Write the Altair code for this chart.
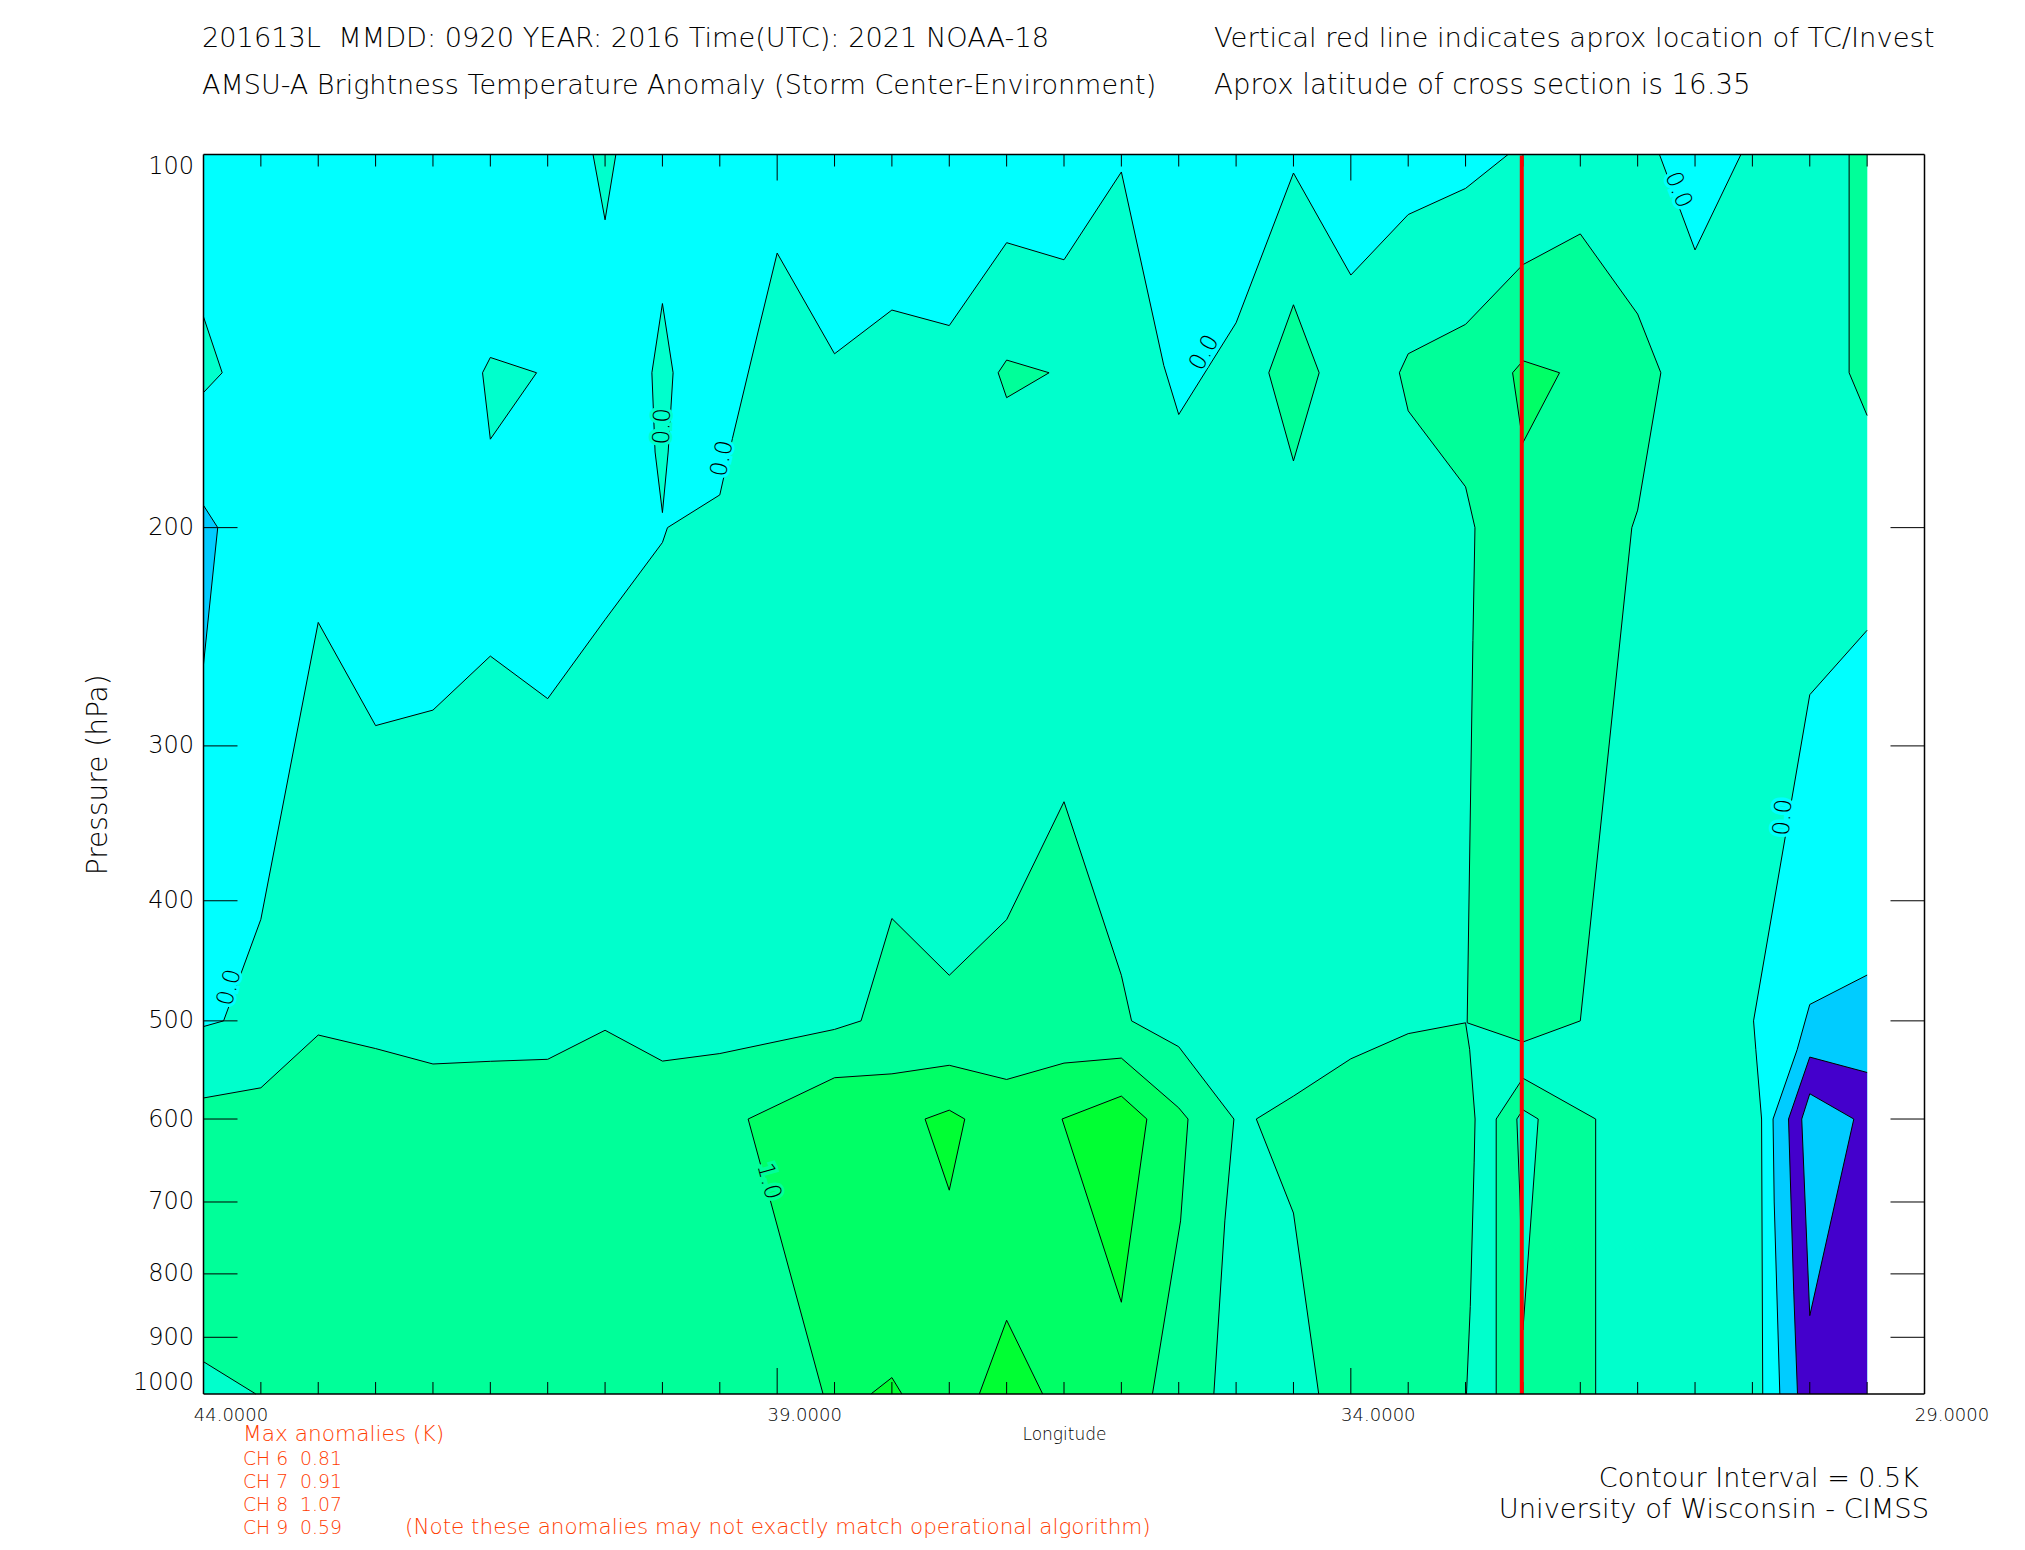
import altair as alt
import pandas as pd

CYAN, B0, B1, B2, B3 = "#00FFFF", "#00FFCC", "#00FF99", "#00FF66", "#00FF33"
BLUE, PURPLE = "#00CCFF", "#4400CC"

BG_LON = [44, 29.5, 29.5, 44]
BG_P = [100, 100, 1000, 1000]

Z_MAIN_LON = [44, 43.825, 43.5, 43, 42.5, 42, 41.5, 41, 40.5, 40, 39.956, 39.5, 39.39, 39.146, 39, 38.5, 38, 37.5, 37, 36.5, 36, 35.63, 35.5, 35, 34.5, 34, 33.5, 33, 32.63, 31.31, 31, 30.6, 29.5, 29.5, 30, 30.49, 30.47, 30.42, 30.41, 44]
Z_MAIN_P = [505.3, 500, 414, 238.5, 288.9, 280.7, 253.9, 274.8, 237.3, 205.6, 200, 188.2, 169.5, 136.5, 120.1, 144.8, 133.5, 137.4, 117.8, 121.6, 103.3, 148, 162.1, 136.7, 103.5, 125.1, 111.8, 106.5, 100, 100, 119.4, 100, 100, 242, 272.8, 500, 527.5, 600, 1000, 1000]
Z_A_LON = [40.605, 40.5, 40.406]
Z_A_P = [100, 112.9, 100]
Z_B_LON = [44, 43.837, 44]
Z_B_P = [135.2, 150, 155.6]
Z_C_LON = [41.5, 41.568, 41.5, 41.097]
Z_C_P = [145.8, 150, 169.7, 150]
Z_D_LON = [40, 39.907, 39.95, 40, 40.064, 40.092]
Z_D_P = [131.9, 150, 173.8, 194.5, 173.8, 150]

H_MAIN_LON = [44, 43.5, 43, 42.5, 42, 41.5, 41, 40.5, 40, 39.5, 38.5, 38.269, 38, 37.5, 37, 36.5, 36, 35.911, 35.5, 35.019, 35.098, 35.194, 43.544, 44]
H_MAIN_P = [577, 566.2, 513.3, 526.4, 541.7, 539, 537, 508.8, 538.8, 531.3, 508, 500, 413.4, 459.4, 414.3, 332.8, 459.4, 500, 524.6, 600, 725, 1000, 1000, 941.8]
H_MID_LON = [34.824, 34.5, 34, 33.5, 33, 32.964, 32.917, 32.925, 32.959, 32.992, 34.28, 34.5]
H_MID_P = [600, 575, 536.5, 512, 501.8, 527.5, 600, 650, 850, 1000, 1000, 714.5]
H_COL_LON = [32, 32.5, 33, 33.5, 33.577, 33.5, 33, 32.918, 32.936, 32.986, 32.5, 32, 31.551, 31.5, 31.298, 31.5]
H_COL_P = [115.9, 122.7, 137.1, 144.8, 150, 161, 185.4, 200, 246.7, 501.8, 520, 500, 200, 193.6, 150, 134.5]
H_LOW_LON = [32.733, 32.5, 31.866, 31.866, 32.733]
H_LOW_P = [600, 556.2, 600, 1000, 1000]
H_EDGE_LON = [29.657, 29.657, 29.5, 29.5]
H_EDGE_P = [100, 150, 162.4, 100]
H_E_LON = [37.074, 37, 36.63, 37]
H_E_P = [150, 146.5, 150, 157.1]
H_F_LON = [34.715, 34.5, 34.276, 34.5]
H_F_P = [150, 132.2, 150, 176.7]
Z_HOLE_LON = [32.553, 32.5, 32.367, 32.5, 32.525]
Z_HOLE_P = [600, 589.8, 600, 887.9, 698.6]

M_MAIN_LON = [39.253, 38.5, 38, 37.5, 37, 36.5, 36, 35.5, 35.419, 35.484, 35.729, 38.6]
M_MAIN_P = [600, 555.7, 551.7, 543, 557.5, 540.8, 535.8, 587.7, 600, 725, 1000, 1000]
M_COL_LON = [32.59, 32.5, 32.181, 32.5]
M_COL_P = [150, 146.7, 150, 170.8]

T_A_LON = [37.711, 37.5, 37.365, 37.5]
T_A_P = [600, 590.2, 600, 684.8]
T_B_LON = [36.517, 36, 35.778, 36]
T_B_P = [600, 575, 600, 843.3]
T_C_LON = [37.238, 37, 36.686]
T_C_P = [1000, 871.9, 1000]
T_D_LON = [38.183, 38, 37.913]
T_D_P = [1000, 970, 1000]

L_BLUE_LON = [44, 43.876, 44]
L_BLUE_P = [191.9, 200, 257.8]
R_BLUE_LON = [29.5, 30, 30.11, 30.32, 30.31, 30.261, 29.5]
R_BLUE_P = [459.2, 485, 527.5, 600, 700, 1000, 1000]
R_PURPLE_LON = [30, 29.5, 29.5, 30.107, 30.14, 30.185]
R_PURPLE_P = [534.8, 550.3, 1000, 1000, 826, 600]
R_INNER_LON = [30, 29.616, 30, 30.07]
R_INNER_P = [572.5, 600, 864.5, 600]

POLYGONS = [
    (CYAN, BG_LON, BG_P),
    (B0, Z_MAIN_LON, Z_MAIN_P), (B0, Z_A_LON, Z_A_P), (B0, Z_B_LON, Z_B_P),
    (B0, Z_C_LON, Z_C_P), (B0, Z_D_LON, Z_D_P),
    (B1, H_MAIN_LON, H_MAIN_P), (B1, H_MID_LON, H_MID_P), (B1, H_COL_LON, H_COL_P),
    (B1, H_LOW_LON, H_LOW_P), (B1, H_EDGE_LON, H_EDGE_P), (B1, H_E_LON, H_E_P), (B1, H_F_LON, H_F_P),
    (B0, Z_HOLE_LON, Z_HOLE_P),
    (B2, M_MAIN_LON, M_MAIN_P), (B2, M_COL_LON, M_COL_P),
    (B3, T_A_LON, T_A_P), (B3, T_B_LON, T_B_P), (B3, T_C_LON, T_C_P), (B3, T_D_LON, T_D_P),
    (BLUE, L_BLUE_LON, L_BLUE_P), (BLUE, R_BLUE_LON, R_BLUE_P),
    (PURPLE, R_PURPLE_LON, R_PURPLE_P), (BLUE, R_INNER_LON, R_INNER_P),
]

MINOR_LON = [43.5, 43, 42.5, 42, 41.5, 41, 40.5, 40, 39.5, 38.5, 38, 37.5, 37, 36.5, 36, 35.5, 35, 34.5, 33.5, 33, 32.5, 32, 31.5, 31, 30.5, 30, 29.5]
MAJOR_LON = [39, 34]
TICK_P = [200, 300, 400, 500, 600, 700, 800, 900]
AXIS_P = [100, 200, 300, 400, 500, 600, 700, 800, 900, 1000]
AXIS_LON = [44, 39, 34, 29]
STORM_LON = 32.51

LABEL_TXT = ["0.0", "0.0", "0.0", "0.0", "0.0", "0.0", "1.0"]
LABEL_LON = [43.775, 39.479, 40.0, 35.278, 31.145, 30.233, 39.073]
LABEL_P = [470, 175.9, 165.7, 144.5, 106.8, 342.6, 673.8]
LABEL_ANGLE = [285, 282, 272, 300, 68, 275, 75]
LABEL_BG = ["#00FFFF", "#00FFFF", "#00FFCC", "#00FFFF", "#00FFFF", "#00FFFF", "#00FF99"]

# annotation text: (string, page x, page baseline y, size, colour, align)
X0, Y0 = 203.5, 154.5
RED = "#FF3C00"
NB = "\u00a0\u00a0"
TEXTS = [
    (f"201613L{NB}MMDD: 0920 YEAR: 2016 Time(UTC): 2021 NOAA-18", 202, 47, 27.2, "black", "left"),
    ("AMSU-A Brightness Temperature Anomaly (Storm Center-Environment)", 202, 94, 27, "black", "left"),
    ("Vertical red line indicates aprox location of TC/Invest", 1214, 47, 27.4, "black", "left"),
    ("Aprox latitude of cross section is 16.35", 1214, 94, 27.6, "black", "left"),
    ("Max anomalies (K)", 243, 1441, 21.7, RED, "left"),
    (f"CH 6{NB}0.81", 243, 1465, 18.8, RED, "left"),
    (f"CH 7{NB}0.91", 243, 1488, 18.8, RED, "left"),
    (f"CH 8{NB}1.07", 243, 1511, 18.8, RED, "left"),
    (f"CH 9{NB}0.59", 243, 1534, 18.8, RED, "left"),
    ("(Note these anomalies may not exactly match operational algorithm)", 405, 1534, 21.5, RED, "left"),
    ("Contour Interval = 0.5K", 1919, 1487, 27, "black", "right"),
    ("University of Wisconsin - CIMSS", 1929, 1518, 27.3, "black", "right"),
]

W, H = 1721, 1239.5
FONT = "DejaVu Sans"
x_scale = alt.Scale(domain=[44, 29], nice=False, zero=False)
y_scale = alt.Scale(type="log", domain=[1000, 100], nice=False)

rows, segs = [], []
def same_edge(a, b):
    return (a[0] == b[0] and a[0] in (44, 29.5)) or (a[1] == b[1] and a[1] in (100, 1000))
for k, (color, lons, ps) in enumerate(POLYGONS):
    for i, (lo, pr) in enumerate(zip(lons, ps)):
        rows.append({"poly": k, "i": i, "lon": lo, "p": pr, "color": color})
        j = (i + 1) % len(lons)
        if k > 0 and not same_edge((lo, pr), (lons[j], ps[j])):
            segs.append({"lon": lo, "p": pr, "lon2": lons[j], "p2": ps[j]})
poly_df = pd.DataFrame(rows)
seg_df = pd.DataFrame(segs)

fills = alt.Chart(poly_df).mark_line(strokeWidth=0).encode(
    x=alt.X("lon:Q", scale=x_scale, axis=alt.Axis(
        title="Longitude", values=AXIS_LON, format=".4f", labelAngle=0, ticks=False, domain=False, grid=False,
        labelOffset=27, labelPadding=12, labelFont=FONT, labelFontSize=18, labelFontWeight=200, labelColor="black",
        labelOverlap=False, labelBound=False, labelFlush=False, titleFont=FONT, titleFontSize=17, titleFontWeight=200,
        titlePadding=2, titleColor="black")),
    y=alt.Y("p:Q", scale=y_scale, axis=alt.Axis(
        title="Pressure (hPa)", values=AXIS_P, format="d", ticks=False, domain=False, grid=False, labelPadding=10, labelFlush=True,
        labelFont=FONT, labelFontSize=24, labelFontWeight=200, labelColor="black", labelOverlap=False,
        titleFont=FONT, titleFontSize=28, titleFontWeight=200, titlePadding=20, titleColor="black")),
    fill=alt.Fill("color:N", scale=None),
    detail="poly:N",
    order="i:Q",
)

lines = alt.Chart(seg_df).mark_rule(color="black", strokeWidth=1).encode(
    x=alt.X("lon:Q", scale=x_scale), y=alt.Y("p:Q", scale=y_scale), x2="lon2:Q", y2="p2:Q")

lab_df = pd.DataFrame({"t": LABEL_TXT, "lon": LABEL_LON, "p": LABEL_P, "a": LABEL_ANGLE, "bg": LABEL_BG})
lab_base = alt.Chart(lab_df).encode(
    x=alt.X("lon:Q", scale=x_scale), y=alt.Y("p:Q", scale=y_scale), text="t:N", angle=alt.Angle("a:Q", scale=None))
lab_gap = lab_base.mark_text(font=FONT, fontSize=23, strokeWidth=6, baseline="middle").encode(
    stroke=alt.Stroke("bg:N", scale=None), fill=alt.Fill("bg:N", scale=None))
lab_txt = lab_base.mark_text(font=FONT, fontSize=23, fontWeight=200, color="black", baseline="middle")

minor = alt.Chart(pd.DataFrame({"lon": MINOR_LON}))
major = alt.Chart(pd.DataFrame({"lon": MAJOR_LON}))
ptick = alt.Chart(pd.DataFrame({"p": TICK_P}))
def xt(ch, y, y2):
    return ch.mark_rule(color="black", strokeWidth=1).encode(
        x=alt.X("lon:Q", scale=x_scale), y=alt.value(y), y2=alt.value(y2))
def yt(x, x2):
    return ptick.mark_rule(color="black", strokeWidth=1).encode(
        y=alt.Y("p:Q", scale=y_scale), x=alt.value(x), x2=alt.value(x2))
ticks = [xt(minor, 0, 12), xt(minor, H - 12, H), xt(major, 0, 26), xt(major, H - 26, H), yt(0, 34), yt(W - 34, W)]

storm = alt.Chart(pd.DataFrame({"lon": [STORM_LON]})).mark_rule(color="#FF0000", strokeWidth=4).encode(
    x=alt.X("lon:Q", scale=x_scale), y=alt.value(1), y2=alt.value(H))

frame = alt.Chart(pd.DataFrame({"a": [0, 0, 0, W], "b": [W, W, 0, W], "c": [0, H, 0, 0], "d": [0, H, H, H]})).mark_rule(
    color="black", strokeWidth=1.5).encode(x=alt.X("a:Q", scale=None), x2="b:Q", y=alt.Y("c:Q", scale=None), y2="d:Q")

notes = [
    alt.Chart(pd.DataFrame({"t": [t]})).mark_text(
        font=FONT, fontSize=s, fontWeight=200, color=c, align=al, baseline="alphabetic"
    ).encode(text="t:N", x=alt.value(px - X0), y=alt.value(py - Y0))
    for t, px, py, s, c, al in TEXTS
]

chart = alt.layer(fills, lines, lab_gap, lab_txt, *ticks, storm, frame, *notes).resolve_scale(
    fill="independent", stroke="independent"
).properties(
    width=W, height=H, autosize="none",
    padding={"left": X0 - 8, "top": Y0 - 8, "right": 90, "bottom": 152},
).configure_view(stroke=None)

chart.save("out.html", embed_options={"renderer": "svg", "actions": False})
